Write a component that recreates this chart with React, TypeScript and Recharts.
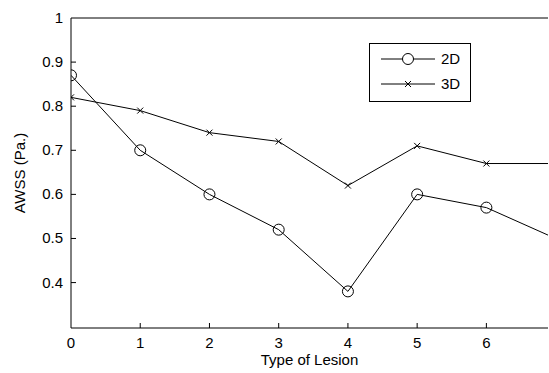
import { LineChart, Line, XAxis, YAxis, ReferenceLine } from "recharts";

const lesionTypes = [0, 1, 2, 3, 4, 5, 6, 7];
const awss2D = [0.87, 0.7, 0.6, 0.52, 0.38, 0.6, 0.57, 0.5];
const awss3D = [0.82, 0.79, 0.74, 0.72, 0.62, 0.71, 0.67, 0.67];
const xTicks = [0, 1, 2, 3, 4, 5, 6];
const yTicks = [0.4, 0.5, 0.6, 0.7, 0.8, 0.9, 1];

const data = lesionTypes.map((t, i) => ({ t, d2: awss2D[i], d3: awss3D[i] }));

const font = "'Liberation Sans', Arial, sans-serif";

const CircleDot = (props: any) => {
  const { cx, cy, index } = props;
  if (cx == null || cy == null) return <g key={index} />;
  return <circle key={index} cx={cx} cy={cy} r={5.5} fill="none" stroke="#000" strokeWidth={1} />;
};

const CrossDot = (props: any) => {
  const { cx, cy, index } = props;
  if (cx == null || cy == null) return <g key={index} />;
  const s = 3;
  return (
    <path
      key={index}
      d={`M${cx - s},${cy - s}L${cx + s},${cy + s}M${cx - s},${cy + s}L${cx + s},${cy - s}`}
      stroke="#000"
      strokeWidth={1}
    />
  );
};

const YTick = (props: any) => {
  const { x, y, payload } = props;
  return (
    <g>
      {payload.value < 1 && <line x1={x} y1={y} x2={x + 5} y2={y} stroke="#000" />}
      <text x={x - 8} y={y + 5} textAnchor="end" fontSize={15} fontFamily={font} fill="#000">
        {payload.value}
      </text>
    </g>
  );
};

const XTick = (props: any) => {
  const { x, y, payload } = props;
  return (
    <g>
      {payload.value > 0 && <line x1={x} y1={y} x2={x} y2={y - 5} stroke="#000" />}
      <text x={x} y={y + 20} textAnchor="middle" fontSize={15} fontFamily={font} fill="#000">
        {payload.value}
      </text>
    </g>
  );
};

const LegendBox = () => (
  <svg width={102} height={59} style={{ position: "absolute", left: 369, top: 43 }}>
    <rect x={0.5} y={0.5} width={101} height={58} fill="#fff" stroke="#000" />
    <line x1={12} y1={16} x2={66} y2={16} stroke="#000" />
    <circle cx={39} cy={16} r={5.5} fill="#fff" stroke="#000" />
    <text x={72} y={21} fontSize={15} fontFamily={font}>2D</text>
    <line x1={12} y1={41} x2={66} y2={41} stroke="#000" />
    <path d="M36,38L42,44M36,44L42,38" stroke="#000" />
    <text x={72} y={46} fontSize={15} fontFamily={font}>3D</text>
  </svg>
);

export default function App() {
  return (
    <div style={{ position: "absolute", left: 0, top: 0, width: 549, height: 373, background: "#fff" }}>
      <LineChart width={549} height={373} data={data} margin={{ top: 18, right: 1, bottom: 0, left: 0 }}>
        <XAxis
          dataKey="t"
          type="number"
          domain={[0, 6.89]}
          allowDataOverflow
          ticks={xTicks}
          tick={<XTick />}
          tickLine={false}
          tickSize={0}
          tickMargin={0}
          height={45}
          axisLine={{ stroke: "#000" }}
          label={{ value: "Type of Lesion", position: "insideBottom", offset: 8, fontSize: 15, fontFamily: font, fill: "#000" }}
        />
        <YAxis
          type="number"
          domain={[0.297, 1]}
          allowDataOverflow
          ticks={yTicks}
          tick={<YTick />}
          tickLine={false}
          tickSize={0}
          tickMargin={0}
          width={71}
          axisLine={{ stroke: "#000" }}
          label={{ value: "AWSS (Pa.)", angle: -90, position: "insideLeft", offset: 20, fontSize: 15, fontFamily: font, fill: "#000", style: { textAnchor: "middle" } }}
        />
        <ReferenceLine y={1} stroke="#000" />
        <Line dataKey="d2" stroke="#000" strokeWidth={1} dot={<CircleDot />} isAnimationActive={false} />
        <Line dataKey="d3" stroke="#000" strokeWidth={1} dot={<CrossDot />} isAnimationActive={false} />
      </LineChart>
      <LegendBox />
    </div>
  );
}
